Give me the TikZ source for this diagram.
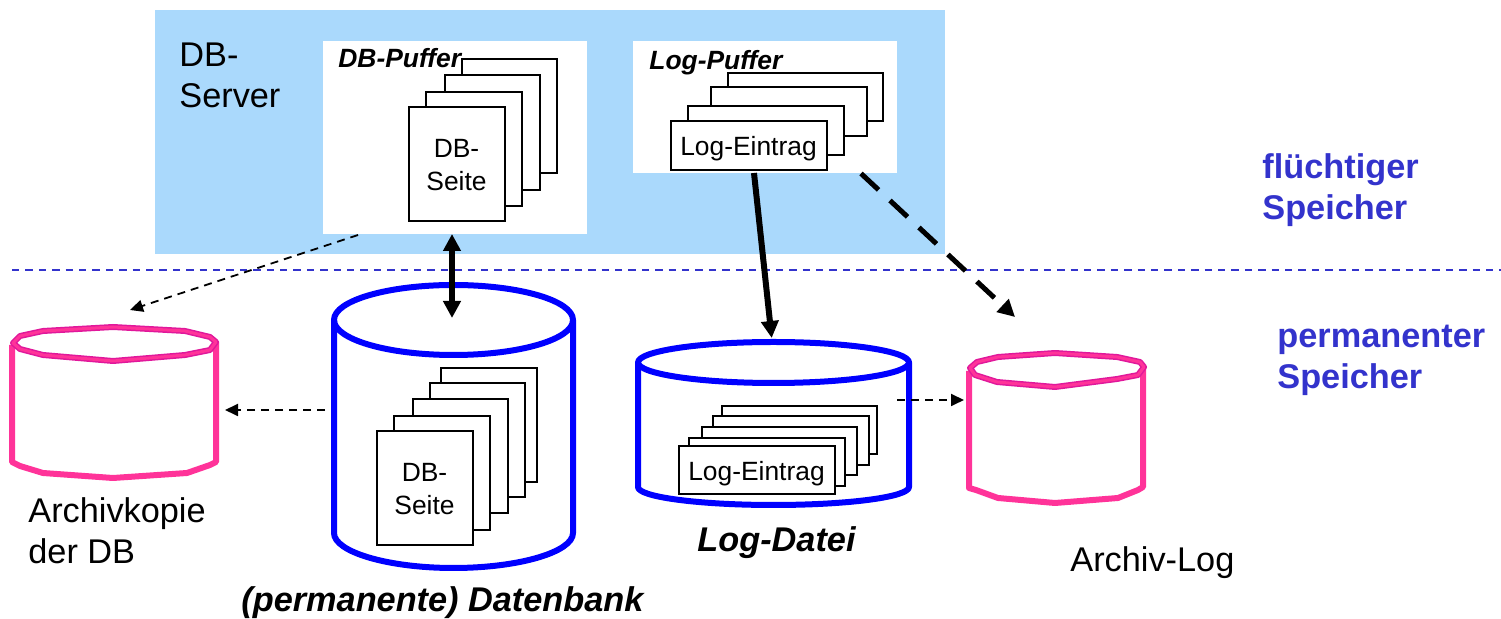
\documentclass[tikz,border=0pt]{standalone}
\usepackage{fontspec}
\setmainfont{Liberation Sans}
\usetikzlibrary{arrows.meta,fit}
\definecolor{serverblue}{HTML}{AAD9FC}
\definecolor{labelblue}{HTML}{3333CC}
\definecolor{pinkline}{HTML}{FF3399}
\definecolor{pinkdark}{HTML}{E0189B}
\newcommand{\bigtxt}{\fontsize{17.15}{20.5}\selectfont}
\newcommand{\smalltxt}{\fontsize{13.2}{16.5}\selectfont}
\newcommand{\pagebox}[5]{\node[pagebox,fit={(#2,#3)(#4,#5)}] (#1) {};}
\tikzset{
  x=0.5pt,y=-0.5pt,
  pagebox/.style={draw=black,fill=white,line width=1pt,inner sep=0pt},
  pagetxt/.style={font=\smalltxt,align=center,inner sep=0pt,text=black},
  panel/.style={fill=white,inner sep=0pt},
  region/.style={fill=serverblue,inner sep=0pt},
  ghost/.style={inner sep=0pt},
  bluecyl/.style={draw=blue,line width=3pt,line join=round},
  pinkcyl/.style={draw=pinkline,line width=3pt,line join=round},
  pinktop/.style={draw=pinkdark,line width=3pt,line join=round},
  pinktopin/.style={draw=pinkline,line width=1.5pt,line join=round},
  big/.style={font=\bigtxt,inner sep=0pt,anchor=base west,align=left},
  bigblue/.style={font=\bigtxt\bfseries,text=labelblue,inner sep=0pt,anchor=base west,align=left},
  bigit/.style={font=\bigtxt\bfseries\itshape,inner sep=0pt,anchor=base west},
  smallit/.style={font=\smalltxt\bfseries\itshape,inner sep=0pt,anchor=base west},
  solidlink/.style={line width=3pt,draw=black},
  bigdash/.style={line width=2.5pt,draw=black,dash pattern=on 12pt off 7.8pt},
  thindash/.style={line width=0.9pt,draw=black,dash pattern=on 4pt off 3pt},
  thintip/.style={-{Triangle[length=6.5pt,width=6pt]}},
  bigtip/.style={-{Triangle[length=8.5pt,width=8.5pt]}},
  bothtip/.style={{Triangle[length=8.5pt,width=8.5pt]}-{Triangle[length=8.5pt,width=8.5pt]}},
}
\begin{document}
\begin{tikzpicture}
\useasboundingbox (0,0) rectangle (1501,619);
% volatile area
\node[region,fit={(155,10)(945,254)}] (server) {};
\node[panel,fit={(323,41)(587,234)}] (dbbuf) {};
\node[panel,fit={(633,41)(897,173)}] (logbuf) {};
\node[big] (servertxt) at (179,108) {DB-\\Server};
% DB buffer pages
\pagebox{pa}{462}{59}{557}{173}
\pagebox{pb}{445}{75}{540}{190}
\pagebox{pc}{426}{92}{522}{206}
\pagebox{pd}{409}{107}{505}{221}
\node[pagetxt] (pdt) at (456.5,165.5) {DB-\\Seite};
\node[smallit] (dbbuftxt) at (338,68) {DB-Puffer};
% log buffer pages
\pagebox{la}{728}{73}{883}{121}
\pagebox{lb}{711}{87}{867}{136}
\pagebox{lc}{688}{106}{844}{155}
\pagebox{ld}{671}{121}{827}{170}
\node[pagetxt] (ldt) at (748.5,148.5) {Log-Eintrag};
\node[smallit] (logbuftxt) at (649,70) {Log-Puffer};
% divider
\coordinate (divl) at (12,270);
\coordinate (divr) at (1501,270);
\draw[labelblue,line width=0.8pt,dash pattern=on 3.7pt off 3pt] (divl) -- (divr);
\node[bigblue] (fluecht) at (1262,219.5) {flüchtiger\\Speicher};
\node[bigblue] (perm) at (1277,388.5) {permanenter\\Speicher};
% database cylinder
\node[ghost,fit={(334,285)(573,568)}] (dbcyl) {};
\path[bluecyl] (334,320) -- (334,533) .. controls (334,552) and (388,568) .. (453.5,568) .. controls (519,568) and (573,552) .. (573,533) -- (573,320);
\path[bluecyl] (453.5,320) ellipse [x radius=119.5,y radius=35];
\pagebox{da}{441}{368}{537}{482}
\pagebox{db}{430}{383}{525}{497}
\pagebox{dc}{413}{399}{508}{513}
\pagebox{dd}{394}{416}{490}{530}
\pagebox{de}{377}{431}{473}{545}
\node[pagetxt] (det) at (424.5,489) {DB-\\Seite};
\node[bigit] (dbtxt) at (241,612) {(permanente) Datenbank};
% log file cylinder
\node[ghost,fit={(638,342)(909,505)}] (logcyl) {};
\path[bluecyl] (638,362.5) -- (638,487) .. controls (638,497) and (699,505) .. (773.5,505) .. controls (848,505) and (909,497) .. (909,487) -- (909,362.5);
\path[bluecyl] (773.5,362.5) ellipse [x radius=135.5,y radius=20.5];
\pagebox{ea}{722}{406}{877}{454}
\pagebox{eb}{713}{416}{869}{465}
\pagebox{ec}{702}{427}{857}{475}
\pagebox{ed}{689}{438}{845}{486}
\pagebox{ee}{679}{446}{835}{494}
\node[pagetxt] (eet) at (756.5,474) {Log-Eintrag};
\node[bigit] (logtxt) at (697,552) {Log-Datei};
% archive copy cylinder
\node[ghost,fit={(12,327)(216,478)}] (arccyl) {};
\path[pinkcyl] (12,345) -- (12,462) -- (20,466) -- (43,473) -- (113,478) -- (187,473) -- (210,465) -- (216,462) -- (216,342);
\path[pinktop] (13,343) -- (20,336) -- (43,331) -- (113,327) -- (185,331) -- (210,337) -- (216,342) -- (210,350) -- (185,355) -- (113,361) -- (43,355) -- (20,349) -- cycle;
\path[pinktopin] (13,343) -- (20,336) -- (43,331) -- (113,327) -- (185,331) -- (210,337) -- (216,342) -- (210,350) -- (185,355) -- (113,361) -- (43,355) -- (20,349) -- cycle;
\node[big] (arctxt) at (28,564) {Archivkopie\\der DB};
% archive log cylinder
\node[ghost,fit={(969,353)(1143,503)}] (alcyl) {};
\path[pinkcyl] (969,371) -- (969,488) -- (976,490) -- (998,498) -- (1055,503) -- (1118,498) -- (1138,490) -- (1143,487) -- (1143,367);
\path[pinktop] (970,368) -- (977,362) -- (998,357) -- (1055,353) -- (1117,357) -- (1140,362) -- (1144,367) -- (1138,375) -- (1117,379) -- (1055,387) -- (997,382) -- (975,375) -- cycle;
\path[pinktopin] (970,368) -- (977,362) -- (998,357) -- (1055,353) -- (1117,357) -- (1140,362) -- (1144,367) -- (1138,375) -- (1117,379) -- (1055,387) -- (997,382) -- (975,375) -- cycle;
\node[big] (altxt) at (1070,572) {Archiv-Log};
% connector end points
\coordinate (c1a) at (452,234);
\coordinate (c1b) at (452,318);
\coordinate (c2a) at (754,173);
\coordinate (c2b) at (771.7,338);
\coordinate (c3a) at (861,173.5);
\coordinate (c3b) at (1015,317);
\coordinate (c4a) at (358,235);
\coordinate (c4b) at (130,310);
\coordinate (c5a) at (325,410);
\coordinate (c5b) at (225,410);
\coordinate (c6a) at (897,400);
\coordinate (c6b) at (964,400);
% connectors
\draw[solidlink,bothtip] (c1a) -- (c1b);
\draw[solidlink,bigtip] (c2a) -- (c2b);
\draw[bigdash,bigtip] (c3a) -- (c3b);
\draw[thindash,thintip] (c4a) -- (c4b);
\draw[thindash,thintip] (c5a) -- (c5b);
\draw[thindash,thintip] (c6a) -- (c6b);
\end{tikzpicture}
\end{document}
